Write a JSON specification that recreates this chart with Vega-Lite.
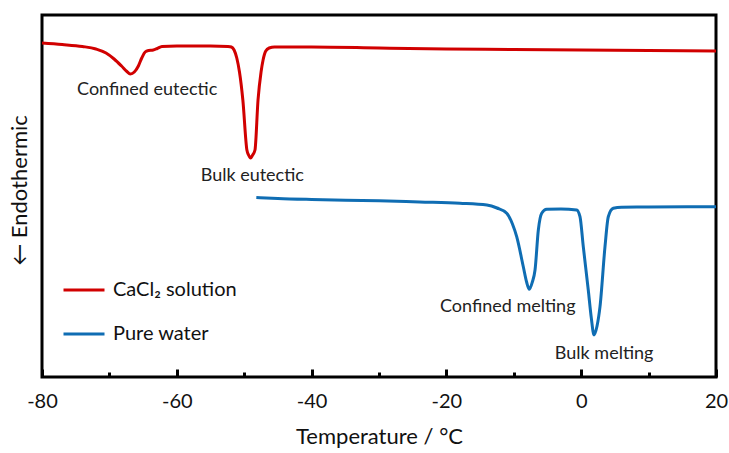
{
  "$schema": "https://vega.github.io/schema/vega-lite/v6.json",
  "width": 674,
  "height": 362,
  "autosize": {"type": "none"},
  "padding": {"left": 42, "top": 15, "right": 13, "bottom": 76},
  "background": "white",
  "config": {
    "view": {"stroke": "black", "strokeWidth": 3},
    "font": "Lato"
  },
  "datasets": {
    "curves": [
      {"T": -80, "v": 334, "s": "CaCl₂ solution"},
      {"T": -77, "v": 332.5, "s": "CaCl₂ solution"},
      {"T": -74, "v": 330.5, "s": "CaCl₂ solution"},
      {"T": -72, "v": 328, "s": "CaCl₂ solution"},
      {"T": -70.5, "v": 324, "s": "CaCl₂ solution"},
      {"T": -69.3, "v": 318, "s": "CaCl₂ solution"},
      {"T": -68.2, "v": 311, "s": "CaCl₂ solution"},
      {"T": -67.4, "v": 305.5, "s": "CaCl₂ solution"},
      {"T": -66.9, "v": 303, "s": "CaCl₂ solution"},
      {"T": -66.3, "v": 305, "s": "CaCl₂ solution"},
      {"T": -65.7, "v": 311, "s": "CaCl₂ solution"},
      {"T": -65.2, "v": 319, "s": "CaCl₂ solution"},
      {"T": -64.7, "v": 325, "s": "CaCl₂ solution"},
      {"T": -64.2, "v": 326.5, "s": "CaCl₂ solution"},
      {"T": -63.5, "v": 327, "s": "CaCl₂ solution"},
      {"T": -62.9, "v": 328.5, "s": "CaCl₂ solution"},
      {"T": -62.2, "v": 330.5, "s": "CaCl₂ solution"},
      {"T": -60, "v": 331, "s": "CaCl₂ solution"},
      {"T": -55, "v": 331, "s": "CaCl₂ solution"},
      {"T": -52.4, "v": 330.5, "s": "CaCl₂ solution"},
      {"T": -51.9, "v": 330, "s": "CaCl₂ solution"},
      {"T": -51.5, "v": 327, "s": "CaCl₂ solution"},
      {"T": -51.1, "v": 319, "s": "CaCl₂ solution"},
      {"T": -50.7, "v": 305, "s": "CaCl₂ solution"},
      {"T": -50.2, "v": 277, "s": "CaCl₂ solution"},
      {"T": -49.6, "v": 227, "s": "CaCl₂ solution"},
      {"T": -49.35, "v": 222, "s": "CaCl₂ solution"},
      {"T": -49.05, "v": 219, "s": "CaCl₂ solution"},
      {"T": -48.75, "v": 222, "s": "CaCl₂ solution"},
      {"T": -48.4, "v": 227, "s": "CaCl₂ solution"},
      {"T": -47.95, "v": 277, "s": "CaCl₂ solution"},
      {"T": -47.5, "v": 305, "s": "CaCl₂ solution"},
      {"T": -47.2, "v": 317, "s": "CaCl₂ solution"},
      {"T": -46.8, "v": 326, "s": "CaCl₂ solution"},
      {"T": -46.3, "v": 329, "s": "CaCl₂ solution"},
      {"T": -45.5, "v": 330, "s": "CaCl₂ solution"},
      {"T": -40, "v": 330, "s": "CaCl₂ solution"},
      {"T": -30, "v": 329, "s": "CaCl₂ solution"},
      {"T": -20, "v": 328, "s": "CaCl₂ solution"},
      {"T": -10, "v": 327.5, "s": "CaCl₂ solution"},
      {"T": 0, "v": 327, "s": "CaCl₂ solution"},
      {"T": 10, "v": 326.5, "s": "CaCl₂ solution"},
      {"T": 20, "v": 326, "s": "CaCl₂ solution"},
      {"T": -48.2, "v": 179.5, "s": "Pure water"},
      {"T": -45, "v": 178.5, "s": "Pure water"},
      {"T": -40, "v": 177.5, "s": "Pure water"},
      {"T": -30, "v": 176.2, "s": "Pure water"},
      {"T": -24, "v": 175, "s": "Pure water"},
      {"T": -18, "v": 173.8, "s": "Pure water"},
      {"T": -14, "v": 172, "s": "Pure water"},
      {"T": -12.5, "v": 169, "s": "Pure water"},
      {"T": -11.05, "v": 163.7, "s": "Pure water"},
      {"T": -10.2, "v": 153, "s": "Pure water"},
      {"T": -9.57, "v": 140.3, "s": "Pure water"},
      {"T": -8.59, "v": 110.3, "s": "Pure water"},
      {"T": -8.1, "v": 95, "s": "Pure water"},
      {"T": -7.7, "v": 87.7, "s": "Pure water"},
      {"T": -7.25, "v": 95, "s": "Pure water"},
      {"T": -6.85, "v": 107, "s": "Pure water"},
      {"T": -6.36, "v": 147, "s": "Pure water"},
      {"T": -5.86, "v": 163.7, "s": "Pure water"},
      {"T": -5.12, "v": 167.7, "s": "Pure water"},
      {"T": -3, "v": 168, "s": "Pure water"},
      {"T": -0.67, "v": 167, "s": "Pure water"},
      {"T": -0.18, "v": 160.3, "s": "Pure water"},
      {"T": 0.31, "v": 130.3, "s": "Pure water"},
      {"T": 1.05, "v": 87, "s": "Pure water"},
      {"T": 1.5, "v": 59, "s": "Pure water"},
      {"T": 1.9, "v": 42, "s": "Pure water"},
      {"T": 2.35, "v": 51, "s": "Pure water"},
      {"T": 2.79, "v": 70.3, "s": "Pure water"},
      {"T": 3.53, "v": 130.3, "s": "Pure water"},
      {"T": 4.02, "v": 160.3, "s": "Pure water"},
      {"T": 4.76, "v": 168.7, "s": "Pure water"},
      {"T": 6, "v": 169.8, "s": "Pure water"},
      {"T": 10, "v": 170, "s": "Pure water"},
      {"T": 20, "v": 170.3, "s": "Pure water"}
    ],
    "labels": [
      {"T": -64.4, "v": 287, "label": "Confined eutectic"},
      {"T": -48.8, "v": 201, "label": "Bulk eutectic"},
      {"T": -10.9, "v": 70, "label": "Confined melting"},
      {"T": 3.4, "v": 23, "label": "Bulk melting"}
    ]
  },
  "layer": [
    {
      "data": {"name": "curves"},
      "mark": {"type": "line", "strokeWidth": 3, "interpolate": "monotone"},
      "encoding": {
        "x": {
          "field": "T",
          "type": "quantitative",
          "scale": {"domain": [-80, 20], "nice": false, "zero": false},
          "axis": {
            "title": "Temperature / °C",
            "titleFontSize": 22,
            "titleFontWeight": "normal",
            "titleColor": "#111",
            "titleY": 66,
            "titleBaseline": "alphabetic",
            "values": [-80, -70, -60, -50, -40, -30, -20, -10, 0, 10, 20],
            "labelExpr": "datum.value % 20 === 0 ? '' + datum.value : ''",
            "labelFontSize": 20,
            "labelColor": "#111",
            "labelPadding": 22,
            "labelFlush": false,
            "domain": false,
            "grid": false,
            "tickColor": "black",
            "tickWidth": 3,
            "tickSize": {"condition": {"test": "datum.value % 20 === 0", "value": -8}, "value": -5}
          }
        },
        "y": {
          "field": "v",
          "type": "quantitative",
          "scale": {"domain": [0, 362], "nice": false, "zero": false},
          "axis": {
            "title": "← Endothermic",
            "titleFontSize": 22,
            "titleFontWeight": "normal",
            "titleColor": "#111",
            "titleX": -16,
            "titleY": 175,
            "titleAngle": -90,
            "titleAlign": "center",
            "titleBaseline": "alphabetic",
            "labels": false,
            "ticks": false,
            "domain": false,
            "grid": false
          }
        },
        "color": {
          "field": "s",
          "type": "nominal",
          "scale": {"domain": ["CaCl₂ solution", "Pure water"], "range": ["#D10000", "#0F6DB3"]},
          "legend": {
            "title": null,
            "orient": "none",
            "legendX": 20,
            "legendY": 253,
            "padding": 0,
            "symbolType": "stroke",
            "symbolSize": 1681,
            "symbolStrokeWidth": 3,
            "labelFontSize": 20,
            "labelColor": "#111",
            "labelOffset": 7,
            "rowPadding": 12
          }
        }
      }
    },
    {
      "data": {"name": "labels"},
      "mark": {"type": "text", "fontSize": 18, "color": "#222", "align": "center", "baseline": "middle"},
      "encoding": {
        "x": {"field": "T", "type": "quantitative"},
        "y": {"field": "v", "type": "quantitative"},
        "text": {"field": "label"}
      }
    }
  ]
}
